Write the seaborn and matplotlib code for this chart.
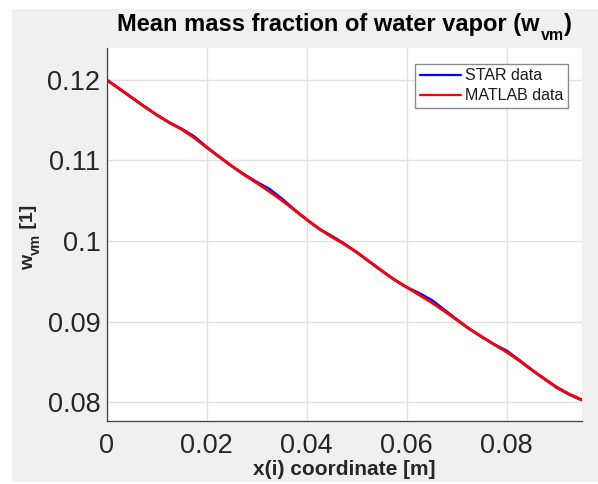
import matplotlib
matplotlib.use("Agg")
import matplotlib.pyplot as plt
from matplotlib.patches import Rectangle
import pandas as pd
import seaborn as sns

# x coordinate [m]
x_coord = [0.0000, 0.0025, 0.0050, 0.0075, 0.0100, 0.0125, 0.0150, 0.0175, 0.0200, 0.0225,
           0.0250, 0.0275, 0.0300, 0.0325, 0.0350, 0.0375, 0.0400, 0.0425, 0.0450, 0.0475,
           0.0500, 0.0525, 0.0550, 0.0575, 0.0600, 0.0625, 0.0650, 0.0675, 0.0700, 0.0725,
           0.0750, 0.0775, 0.0800, 0.0825, 0.0850, 0.0875, 0.0900, 0.0925, 0.0950]

star_wvm = [0.12000, 0.11890, 0.11780, 0.11670, 0.11565, 0.11470, 0.11390, 0.11295, 0.11165, 0.11045,
            0.10930, 0.10825, 0.10730, 0.10645, 0.10525, 0.10390, 0.10265, 0.10150, 0.10060, 0.09965,
            0.09860, 0.09745, 0.09630, 0.09520, 0.09425, 0.09350, 0.09265, 0.09145, 0.09025, 0.08910,
            0.08810, 0.08715, 0.08635, 0.08520, 0.08400, 0.08290, 0.08180, 0.08095, 0.08025]

matlab_wvm = [0.12000, 0.11890, 0.11780, 0.11670, 0.11565, 0.11470, 0.11385, 0.11280, 0.11160, 0.11045,
              0.10930, 0.10820, 0.10720, 0.10615, 0.10505, 0.10385, 0.10265, 0.10150, 0.10050, 0.09960,
              0.09860, 0.09745, 0.09630, 0.09520, 0.09425, 0.09330, 0.09235, 0.09130, 0.09020, 0.08910,
              0.08810, 0.08715, 0.08620, 0.08515, 0.08400, 0.08290, 0.08185, 0.08100, 0.08030]

series_labels = ["STAR data", "MATLAB data"]
x_ticks = [0, 0.02, 0.04, 0.06, 0.08]
x_tick_labels = ["0", "0.02", "0.04", "0.06", "0.08"]
y_ticks = [0.08, 0.09, 0.10, 0.11, 0.12]
y_tick_labels = ["0.08", "0.09", "0.1", "0.11", "0.12"]

W, H = 598, 484

sns.set_theme(style="white")
plt.rcParams['font.family'] = ['Liberation Sans', 'DejaVu Sans']

df = pd.DataFrame({
    "x": x_coord + x_coord,
    "w": star_wvm + matlab_wvm,
    "series": [series_labels[0]] * len(x_coord) + [series_labels[1]] * len(x_coord),
})

fig = plt.figure(figsize=(W / 100, H / 100), dpi=100, facecolor="white")
fig.patches.append(Rectangle((12 / W, 2 / H), 1 - 12 / W, 1 - 11 / H, transform=fig.transFigure,
                             facecolor="#f0f0f0", edgecolor="none", zorder=-10))
ax = fig.add_axes([106.7 / W, 1 - 421.4 / H, (581.7 - 106.7) / W, (421.4 - 47.6) / H])
ax.set_facecolor("white")

sns.lineplot(data=df, x="x", y="w", hue="series", hue_order=series_labels,
             palette={"STAR data": "#0000ff", "MATLAB data": "#ff0000"},
             linewidth=2.0, sort=False, estimator=None, ax=ax)

ax.set_xlim(0, 0.095)
ax.set_ylim(0.0776, 0.1240)
ax.set_xticks(x_ticks)
ax.set_xticklabels(x_tick_labels)
ax.set_yticks(y_ticks)
ax.set_yticklabels(y_tick_labels)
ax.grid(True, color="#e1e1e1", linewidth=1.0)
ax.set_axisbelow(True)

for s in ["top", "right"]:
    ax.spines[s].set_visible(False)
for s in ["left", "bottom"]:
    ax.spines[s].set_color("#404040")
    ax.spines[s].set_linewidth(0.9)

ax.tick_params(axis="both", direction="in", length=4, width=0.8, color="#404040",
               labelsize=19.5, labelcolor="#262626")
ax.tick_params(axis="y", pad=4.5)
ax.tick_params(axis="x", pad=8)

ax.set_xlabel("x(i) coordinate [m]", fontsize=15, fontweight="bold", color="#262626", labelpad=1)
ax.set_ylabel("")

leg = ax.legend(loc="upper left", bbox_to_anchor=((415 - 106.7) / (581.7 - 106.7), 1 - (63.7 - 47.6) / (421.4 - 47.6)),
                fontsize=11.5, frameon=True, fancybox=False, framealpha=1.0, edgecolor="#8a8a8a",
                handlelength=2.6, handletextpad=0.25, borderpad=0.3, labelspacing=0.3,
                borderaxespad=0.0)
leg.get_frame().set_linewidth(1.0)
for line in leg.get_lines():
    line.set_linewidth(1.6)
for t in leg.get_texts():
    t.set_color("#1a1a1a")

# ---- title with MATLAB-like subscript ----
fig.canvas.draw()
r = fig.canvas.get_renderer()

def put(x_px, y_px, s, size, rot=0, color="black"):
    t = fig.text(x_px / W, 1 - y_px / H, s, fontsize=size, fontweight="bold", color=color,
                 ha="left", va="baseline", rotation=rot, rotation_mode="anchor")
    bb = t.get_window_extent(renderer=r)
    return t, bb

T_MAIN, T_SUB = 17.0, 11.5
base_y = 30.7
t1, b1 = put(0, base_y, "Mean mass fraction of water vapor (w", T_MAIN)
t2, b2 = put(0, base_y + 9.0, "vm", T_SUB)
t3, b3 = put(0, base_y, ")", T_MAIN)
total = b1.width + 1 + b2.width + b3.width
x0 = (106.7 + 581.7) / 2 - total / 2
t1.set_x(x0 / W)
t2.set_x((x0 + b1.width + 1) / W)
t3.set_x((x0 + b1.width + 1 + b2.width) / W)

# ---- y label with subscript (rotated) ----
Y_MAIN, Y_SUB = 14.0, 10.5
base_x = 33.0
y_start = 270.5
u1, c1 = put(base_x, y_start, "w", Y_MAIN, rot=90, color="#262626")
u2, c2 = put(base_x + 7.0, y_start - c1.height - 0.5, "vm", Y_SUB, rot=90, color="#262626")
u3, c3 = put(base_x, y_start - c1.height - 0.5 - c2.height, " [1]", Y_MAIN, rot=90, color="#262626")

fig.savefig("out.png", dpi=100, facecolor=fig.get_facecolor())
